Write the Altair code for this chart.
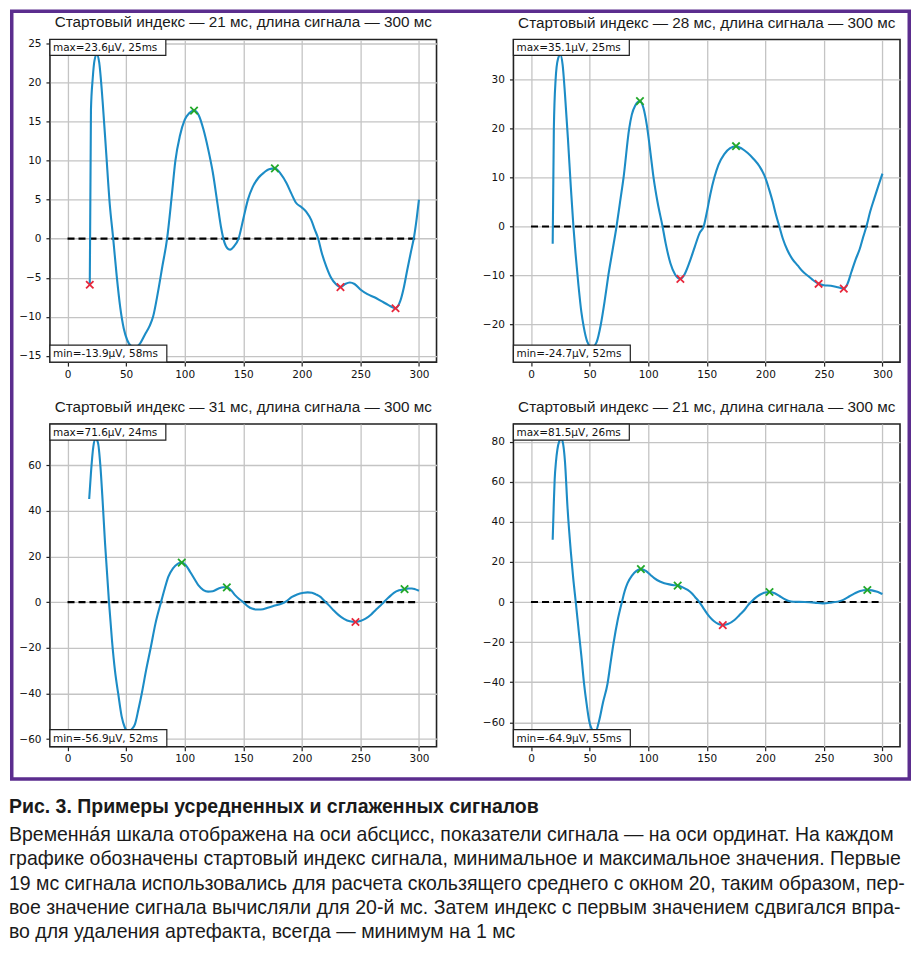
import altair as alt
import pandas as pd

# ---------------- data ----------------
titles = [
    "Стартовый индекс — 21 мс, длина сигнала — 300 мс",
    "Стартовый индекс — 28 мс, длина сигнала — 300 мс",
    "Стартовый индекс — 31 мс, длина сигнала — 300 мс",
    "Стартовый индекс — 21 мс, длина сигнала — 300 мс",
]
max_labels = ["max=23.6µV, 25ms", "max=35.1µV, 25ms", "max=71.6µV, 24ms", "max=81.5µV, 26ms"]
min_labels = ["min=-13.9µV, 58ms", "min=-24.7µV, 52ms", "min=-56.9µV, 52ms", "min=-64.9µV, 55ms"]

x_ticks = [0, 50, 100, 150, 200, 250, 300]
y_domains = [[-15.8, 25.5], [-27.7, 38.2], [-63.3, 78.0], [-72.2, 88.8]]
y_ticks = [
    [-15, -10, -5, 0, 5, 10, 15, 20, 25],
    [-20, -10, 0, 10, 20, 30],
    [-60, -40, -20, 0, 20, 40, 60],
    [-60, -40, -20, 0, 20, 40, 60, 80],
]

p1_t = [19, 20, 21.5, 23, 25, 27, 30, 33, 36, 39, 42, 45, 48, 51, 54, 58, 62, 66, 70, 73, 77, 81, 85, 89, 92,
        96, 100, 104, 108, 112, 116, 120, 124, 128, 131, 134, 137, 139, 142, 146, 150, 154, 158, 163, 168,
        172, 177, 182, 187, 191, 195, 200, 204, 208, 211, 214, 217, 221, 225, 229, 233, 237, 241, 245, 250,
        256, 262, 268, 274, 280, 284, 287, 290, 293, 296, 298, 300]
p1_v = [-5.9, 16.5, 20.5, 22.8, 23.6, 22.6, 17.5, 11, 4.5, 0, -4.8, -8.8, -11.5, -13.0, -13.7, -13.9, -13.4,
        -12.3, -11.2, -10.0, -7, -3.5, 0, 5.5, 9.9, 13.2, 15.2, 16.1, 16.4, 15.8, 14.0, 11.5, 8.5, 4.5, 1.5,
        -0.5, -1.3, -1.4, -1.0, 0, 2.5, 5.0, 6.6, 7.8, 8.5, 8.9, 9.0, 8.3, 7.1, 5.8, 4.6, 4.0, 3.4, 2.4, 1.2,
        0, -1.8, -3.6, -5.0, -5.8, -6.2, -5.8, -5.6, -5.8, -6.5, -7.1, -7.5, -8.0, -8.5, -8.9, -8.0, -6.3,
        -4.0, -1.8, 0.4, 2.5, 5.0]
p1_max_t = [108, 177]
p1_max_v = [16.4, 9.0]
p1_min_t = [19, 233, 280]
p1_min_v = [-5.9, -6.2, -8.9]

p2_t = [18.5, 19.5, 21, 23, 25, 27, 29, 31.5, 34, 36.2, 38, 40.5, 43, 45, 48, 52, 56, 59.6, 63, 66, 69.5, 73,
        76, 79, 83.8, 86, 89, 93, 96, 99, 102, 104.6, 108, 112.3, 115, 119, 123, 127.5, 131, 135, 140, 144,
        147.4, 150, 153, 156.5, 160, 165, 170, 175, 180, 185, 190, 195, 200, 203, 206.4, 209, 212, 215, 219,
        223, 227.8, 232, 236, 240, 245.5, 250, 256, 262, 267, 270, 273.5, 277, 280.6, 283.5, 286.3, 289.5,
        293, 296.5, 300]
p2_v = [-3.5, 20, 30, 34.2, 35.1, 33, 27, 18, 8, 0, -5.5, -12, -17.5, -20.5, -23.5, -24.7, -23.6, -20, -15,
        -10, -5, 0, 5, 10, 20, 22.8, 24.7, 25.6, 24.2, 20.5, 15, 10, 5, 0, -3.5, -7.5, -9.8, -10.7, -9.8,
        -7.5, -4, -1.3, 0, 2.8, 6.5, 10, 12.6, 14.8, 16.0, 16.4, 15.9, 15, 13.8, 12.3, 10, 7.8, 5, 2.5, 0,
        -2.5, -4.9, -6.6, -8, -9.2, -10, -10.8, -11.7, -12, -12.1, -12.4, -12.7, -11.8, -9.3, -6.8, -4.6,
        -2.2, 0, 3, 5.7, 8.3, 10.8]
p2_max_t = [93, 175]
p2_max_v = [25.6, 16.4]
p2_min_t = [127.5, 245.5, 267]
p2_min_v = [-10.7, -11.7, -12.7]

p3_t = [18.5, 20, 22, 24, 26, 28, 30, 32, 35.4, 38, 40.5, 43.3, 46.2, 49, 52, 55, 57.6, 60.5, 63.3, 67, 71,
        75, 79.8, 83, 86, 90, 94, 97.5, 101, 105, 108.9, 112, 116, 120, 124, 129, 133, 136, 140, 143, 146.5,
        150, 154, 157.4, 161, 165, 171.7, 177, 183, 187, 191.6, 196, 201.6, 205, 208.7, 212, 215.9, 219, 223,
        227, 231.5, 236, 241, 245.8, 250, 254.4, 259, 262.9, 266.5, 270, 274, 278.6, 283, 287.7, 291, 294,
        297, 300]
p3_v = [45.2, 56.6, 68, 71.6, 69.8, 60, 44, 26, 0, -17, -30, -40.2, -50, -55, -56.9, -55.5, -53.4, -47,
        -40.2, -30, -20, -9.5, 0, 6, 11.1, 14.8, 16.8, 17.3, 16.2, 13, 9.7, 7.2, 5.3, 4.6, 4.8, 6.0, 6.5,
        6.5, 5, 3.1, 1.4, 0, -1.8, -2.8, -3.2, -3.2, -2.3, -1.5, -0.6, 0.5, 2.3, 3.4, 4.1, 4.3, 4.1, 3.4,
        2.3, 0.7, -1.3, -3.5, -5.7, -7.3, -8.4, -8.7, -8.2, -7.2, -5.5, -3.5, -1.8, 0, 2, 4.1, 5.2, 5.7,
        6.0, 6.0, 5.6, 5.0]
p3_max_t = [97.5, 136, 287.7]
p3_max_v = [17.3, 6.5, 5.7]
p3_min_t = [245.8]
p3_min_v = [-8.7]

p4_t = [18.5, 19.5, 20.2, 21.3, 22.5, 24, 26, 27.5, 29, 31.1, 34, 36, 38.2, 41, 43, 45.3, 47.5, 49.6, 52, 55,
        58.2, 61.5, 65.3, 68, 70.4, 74, 77.6, 80, 82.4, 86, 90, 93.8, 98, 102, 105.2, 110, 113.8, 118, 122,
        125.2, 130, 133.7, 137, 140, 143.7, 148, 152.3, 156, 160, 163.7, 168, 173.7, 178, 182.2, 185, 187.9,
        191, 195, 199, 203.6, 208, 212.1, 216, 220, 224, 233.5, 242, 249.2, 256, 264.9, 270, 276.3, 281,
        287.1, 291, 294.8, 298, 300]
p4_v = [31.1, 50, 61.1, 70, 76, 80, 81.5, 78.5, 70, 47.8, 25, 12, 0, -16, -27, -40.8, -51, -59.1, -63.5,
        -64.9, -59.1, -50, -40.8, -30, -20.7, -9, 0, 5.5, 9.4, 13, 15.5, 16.4, 15.5, 13.5, 11.9, 10.2, 9.4,
        8.8, 8.4, 8.2, 7.2, 6.0, 4.5, 2.5, 0, -3.8, -7.3, -9.5, -11, -11.5, -11, -9.0, -6.5, -4.0, -1.8, 0,
        1.8, 3.5, 4.6, 5.0, 4.4, 3.0, 1.6, 0.5, 0.1, 0, -0.3, -0.7, -0.3, 0.7, 2.2, 4.3, 5.5, 6.0, 5.8, 5.2,
        4.5, 4.0]
p4_max_t = [93.8, 125.2, 203.6, 287.1]
p4_max_v = [16.4, 8.2, 5.0, 6.0]
p4_min_t = [163.7]
p4_min_v = [-11.5]

caption_bold = "Рис. 3. Примеры усредненных и сглаженных сигналов"
caption_lines = [
    "Временна́я шкала отображена на оси абсцисс, показатели сигнала — на оси ординат. На каждом",
    "графике обозначены стартовый индекс сигнала, минимальное и максимальное значения. Первые",
    "19 мс сигнала использовались для расчета скользящего среднего с окном 20, таким образом, пер-",
    "вое значение сигнала вычисляли для 20-й мс. Затем индекс с первым значением сдвигался впра-",
    "во для удаления артефакта, всегда — минимум на 1 мс",
]

series_t = [p1_t, p2_t, p3_t, p4_t]
series_v = [p1_v, p2_v, p3_v, p4_v]
maxs_t = [p1_max_t, p2_max_t, p3_max_t, p4_max_t]
maxs_v = [p1_max_v, p2_max_v, p3_max_v, p4_max_v]
mins_t = [p1_min_t, p2_min_t, p3_min_t, p4_min_t]
mins_v = [p1_min_v, p2_min_v, p3_min_v, p4_min_v]

# ---------------- style ----------------
W, H = 387, 323
LINE = "#1c8cc6"
GREEN = "#22a82a"
RED = "#e8283c"
PURPLE = "#5b2d8e"
XSHAPE = "M-1,-1L1,1M-1,1L1,-1"


def panel(i):
    xs = alt.Scale(domain=[-15, 315], nice=False, zero=False)
    ys = alt.Scale(domain=y_domains[i], nice=False, zero=False)
    X = alt.X("t:Q", scale=xs, axis=alt.Axis(values=x_ticks, title="", labelPadding=3))
    Y = alt.Y("v:Q", scale=ys, axis=alt.Axis(values=y_ticks[i], title="", labelPadding=5))

    df = pd.DataFrame({"t": series_t[i], "v": series_v[i]})
    line = alt.Chart(df).mark_line(interpolate="monotone", color=LINE, strokeWidth=2.1).encode(x=X, y=Y)

    zdf = pd.DataFrame({"t": [0], "t2": [300], "v": [0]})
    zero = alt.Chart(zdf).mark_rule(color="black", strokeWidth=2.2, strokeDash=[7, 4]).encode(
        x=X, x2="t2:Q", y=Y)

    mx = alt.Chart(pd.DataFrame({"t": maxs_t[i], "v": maxs_v[i]})).mark_point(
        shape=XSHAPE, filled=False, color=GREEN, strokeWidth=1.8, size=55, opacity=1).encode(x=X, y=Y)
    mn = alt.Chart(pd.DataFrame({"t": mins_t[i], "v": mins_v[i]})).mark_point(
        shape=XSHAPE, filled=False, color=RED, strokeWidth=1.8, size=55, opacity=1).encode(x=X, y=Y)

    bmax = pd.DataFrame({"lab": [max_labels[i]]})
    bmin = pd.DataFrame({"lab": [min_labels[i]]})
    box_max = alt.Chart(bmax).mark_rect(fill="white", stroke="#222", strokeWidth=1.2).encode(
        x=alt.value(0), x2=alt.value(116), y=alt.value(0), y2=alt.value(16))
    txt_max = alt.Chart(bmax).mark_text(align="left", baseline="middle", font="DejaVu Sans",
                                        fontSize=10.5, color="#111").encode(
        x=alt.value(3), y=alt.value(8.5), text="lab:N")
    box_min = alt.Chart(bmin).mark_rect(fill="white", stroke="#222", strokeWidth=1.2).encode(
        x=alt.value(0), x2=alt.value(117), y=alt.value(H - 17), y2=alt.value(H))
    txt_min = alt.Chart(bmin).mark_text(align="left", baseline="middle", font="DejaVu Sans",
                                        fontSize=10.5, color="#111").encode(
        x=alt.value(3), y=alt.value(H - 8), text="lab:N")

    layers = [zero, line, mx, mn, box_max, txt_max, box_min, txt_min]
    return alt.layer(*layers).properties(
        width=W, height=H,
        title=alt.TitleParams(titles[i], font="Liberation Sans", fontSize=15.3, fontWeight="normal",
                              color="#1a1a1a", anchor="middle", frame="group", offset=8),
    )


p1 = panel(0)
p2 = panel(1)
p3 = panel(2)
p4 = panel(3)

# caption (its view starts 62 px below the second row; the purple frame is drawn from here too)
CAP_FS = 19.5
CAP_TOP = 808  # page y of the caption view top
frame = alt.Chart(pd.DataFrame({"k": [0]})).mark_rect(
    fill="transparent", stroke=PURPLE, strokeWidth=3.5).encode(
    x=alt.value(-38.25), x2=alt.value(860.25),
    y=alt.value(9.75 - CAP_TOP), y2=alt.value(778.25 - CAP_TOP))
cap_layers = [
    frame,
    alt.Chart(pd.DataFrame({"s": [caption_bold]})).mark_text(
        align="left", baseline="middle", font="Liberation Sans", fontSize=CAP_FS, fontWeight="bold",
        color="#1a1a1a").encode(x=alt.value(-41), y=alt.value(-2), text="s:N"),
]
cap_y = [26, 50.5, 75, 99.5, 124]
for s, yy in zip(caption_lines, cap_y):
    cap_layers.append(
        alt.Chart(pd.DataFrame({"s": [s]})).mark_text(
            align="left", baseline="middle", font="Liberation Sans", fontSize=CAP_FS,
            color="#1a1a1a").encode(x=alt.value(-41), y=alt.value(yy), text="s:N"))
cap = alt.layer(*cap_layers).properties(width=W, height=130, view=alt.ViewBackground(stroke="transparent"))

chart = alt.concat(
    p1, p2, p3, p4, cap, columns=2, spacing={"row": 62, "column": 77}, bounds="flush"
).properties(
    padding={"left": 0, "top": 0, "right": 0, "bottom": 0}, background="white"
).configure_view(
    stroke="#222", strokeWidth=1.6
).configure_axis(
    domain=False, gridColor="#c4c4c4", gridWidth=1.3, tickColor="#222", tickSize=4, tickWidth=1.2,
    labelFont="DejaVu Sans", labelFontSize=10.5, labelColor="#111"
)

chart.save("out.html", embed_options={"renderer": "svg", "actions": False})
